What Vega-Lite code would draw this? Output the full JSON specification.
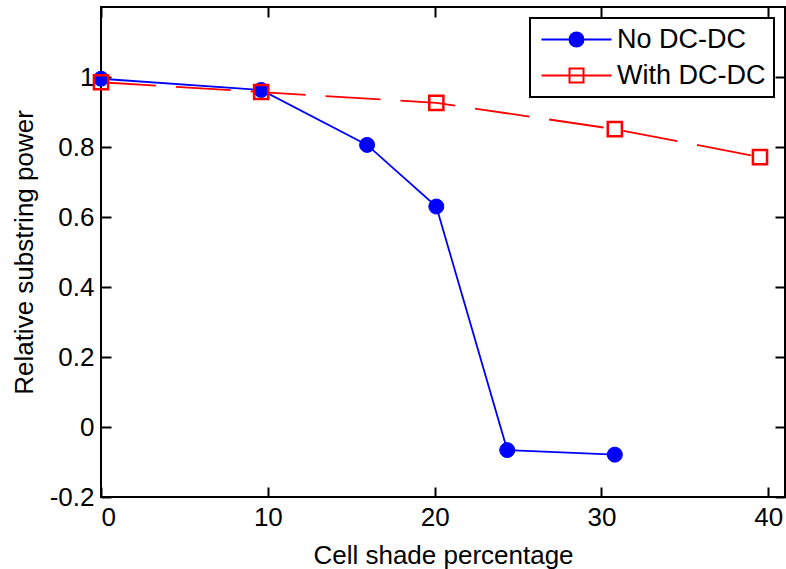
{
  "$schema": "https://vega.github.io/schema/vega-lite/v6.json",
  "width": 684,
  "height": 490,
  "autosize": {"type": "none"},
  "padding": {"left": 101, "top": 7, "right": 1, "bottom": 72},
  "background": "white",
  "config": {
    "font": "Liberation Sans",
    "view": {"stroke": "black", "strokeWidth": 2},
    "axis": {
      "domain": false,
      "grid": false,
      "ticks": true,
      "tickSize": -10,
      "tickWidth": 2,
      "tickColor": "black",
      "labelFont": "Liberation Sans",
      "labelFontSize": 26,
      "labelColor": "black",
      "labelPadding": 17,
      "titleFont": "Liberation Sans",
      "titleFontSize": 26,
      "titleFontWeight": "normal",
      "titleColor": "black"
    }
  },
  "data": {
    "values": [
      {"series": "No DC-DC", "shade": 0, "power": 0.995},
      {"series": "No DC-DC", "shade": 9.6, "power": 0.963},
      {"series": "No DC-DC", "shade": 15.95, "power": 0.806},
      {"series": "No DC-DC", "shade": 20.1, "power": 0.63},
      {"series": "No DC-DC", "shade": 24.35, "power": -0.066},
      {"series": "No DC-DC", "shade": 30.8, "power": -0.079},
      {"series": "With DC-DC", "shade": 0, "power": 0.985},
      {"series": "With DC-DC", "shade": 9.6, "power": 0.957},
      {"series": "With DC-DC", "shade": 20.1, "power": 0.926},
      {"series": "With DC-DC", "shade": 30.8, "power": 0.851},
      {"series": "With DC-DC", "shade": 39.5, "power": 0.771}
    ]
  },
  "resolve": {"axis": {"x": "independent", "y": "independent"}},
  "layer": [
    {
      "transform": [{"filter": "datum.series === 'No DC-DC'"}],
      "mark": {"type": "line", "strokeWidth": 1.8},
      "encoding": {
        "x": {
          "field": "shade", "type": "quantitative",
          "scale": {"domain": [0, 41], "nice": false, "zero": false},
          "axis": {"values": [0, 10, 20, 30, 40], "title": "Cell shade percentage", "titlePadding": 12, "labelExpr": "toString(datum.value)"}
        },
        "y": {
          "field": "power", "type": "quantitative",
          "scale": {"domain": [-0.2, 1.2], "nice": false, "zero": false},
          "axis": {"values": [-0.2, 0, 0.2, 0.4, 0.6, 0.8, 1], "title": "Relative substring power", "titlePadding": 12, "labelExpr": "toString(datum.value)"}
        },
        "stroke": {
          "field": "series", "type": "nominal",
          "scale": {"domain": ["No DC-DC", "With DC-DC"], "range": ["#0000ff", "#ff0000"]},
          "legend": {
            "title": null,
            "orient": "none",
            "legendX": 429,
            "legendY": 11,
            "padding": 8,
            "strokeColor": "black",
            "fillColor": "white",
            "symbolSize": 196,
            "symbolStrokeWidth": 2,
            "symbolOffset": 25,
            "labelOffset": 27,
            "labelFont": "Liberation Sans",
            "labelFontSize": 27,
            "labelColor": "black",
            "rowPadding": 8,
            "encode": {
              "legend": {"update": {"strokeWidth": {"value": 2}}},
              "symbols": {
                "update": {
                  "shape": {"signal": "datum.value === 'No DC-DC' ? 'M-5,0H5M-1,0A1,1,0,1,1,1,0A1,1,0,1,1,-1,0Z' : 'M-5,0H5M-1,-1H1V1H-1Z'"},
                  "fill": {"signal": "datum.value === 'No DC-DC' ? '#0000ff' : 'transparent'"},
                  "strokeWidth": {"value": 2}
                }
              }
            }
          }
        }
      }
    },
    {
      "transform": [{"filter": "datum.series === 'With DC-DC'"}],
      "mark": {"type": "line", "strokeWidth": 1.8, "strokeDash": [55, 20]},
      "encoding": {
        "x": {"field": "shade", "type": "quantitative", "axis": null},
        "y": {"field": "power", "type": "quantitative", "axis": null},
        "stroke": {"field": "series", "type": "nominal", "legend": null}
      }
    },
    {
      "transform": [{"filter": "datum.series === 'No DC-DC'"}],
      "mark": {"type": "point", "shape": "circle", "filled": true, "color": "#0000ff", "strokeWidth": 1, "stroke": "#0000ff", "opacity": 1, "size": 225},
      "encoding": {
        "x": {"field": "shade", "type": "quantitative", "axis": null},
        "y": {"field": "power", "type": "quantitative", "axis": null}
      }
    },
    {
      "transform": [{"filter": "datum.series === 'With DC-DC'"}],
      "mark": {"type": "point", "shape": "square", "filled": false, "color": "#ff0000", "strokeWidth": 2.5, "opacity": 1, "size": 200},
      "encoding": {
        "x": {"field": "shade", "type": "quantitative", "axis": null},
        "y": {"field": "power", "type": "quantitative", "axis": null}
      }
    },
    {
      "mark": {"type": "point", "opacity": 0},
      "encoding": {
        "x": {"field": "shade", "type": "quantitative", "axis": {"orient": "top", "values": [0, 10, 20, 30, 40], "labels": false, "title": null}},
        "y": {"field": "power", "type": "quantitative", "axis": {"orient": "right", "values": [-0.2, 0, 0.2, 0.4, 0.6, 0.8, 1], "labels": false, "title": null}}
      }
    }
  ]
}
